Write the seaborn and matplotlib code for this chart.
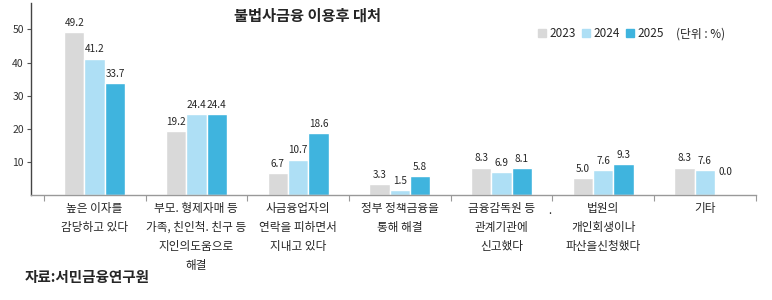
import matplotlib
matplotlib.use('Agg')
import matplotlib.pyplot as plt
import pandas as pd
import seaborn as sns

categories = ['높은 이자를\n감당하고 있다',
              '부모. 형제자매 등\n가족, 친인척. 친구 등\n지인의도움으로\n해결',
              '사금융업자의\n연락을 피하면서\n지내고 있다',
              '정부 정책금융을\n통해 해결',
              '금융감독원 등\n관계기관에\n신고했다',
              '법원의\n개인회생이나\n파산을신청했다',
              '기타']
years = ['2023', '2024', '2025']
v2023 = [49.2, 19.2, 6.7, 3.3, 8.3, 5.0, 8.3]
v2024 = [41.2, 24.4, 10.7, 1.5, 6.9, 7.6, 7.6]
v2025 = [33.7, 24.4, 18.6, 5.8, 8.1, 9.3, 0.0]
yticks = [10, 20, 30, 40, 50]

colors = ['#d9d9d9', '#aedff5', '#3fb4de']

sns.set_style('white')
plt.rcParams['font.family'] = ['Noto Sans CJK KR', 'DejaVu Sans']

df = pd.DataFrame({
    'cat': categories * 3,
    'year': [y for y in years for _ in categories],
    'val': v2023 + v2024 + v2025,
})

fig = plt.figure(figsize=(7.72, 3.0), dpi=100)
ax = fig.add_axes([0.040, 0.35, 0.939, 0.64])

sns.barplot(data=df, x='cat', y='val', hue='year', palette=colors,
            width=0.6, ax=ax, saturation=1, legend=False)

# value labels
for cont in ax.containers:
    for p in cont:
        h = p.get_height()
        off = 3 if h > 0 else 13
        ax.annotate(f'{h:.1f}', (p.get_x() + p.get_width() / 2, h),
                    xytext=(0, off), textcoords='offset points',
                    ha='center', va='bottom', fontsize=7.2)

ax.set_xlim(-0.627, 6.5)
ax.set_ylim(0, 58)
ax.set_yticks(yticks)
ax.set_yticklabels([str(t) for t in yticks], fontsize=7.5, color='#333333')
ax.tick_params(axis='y', length=3, width=0.8, color='#555555', left=True, pad=2)

ax.set_xticks(range(len(categories)))
ax.set_xticklabels(categories, fontsize=8.4, linespacing=1.6, va='top')
ax.tick_params(axis='x', length=0, pad=5)
ax.set_xticks([i - 0.5 for i in range(len(categories) + 1)], minor=True)
ax.tick_params(axis='x', which='minor', length=4, width=0.8, color='#999999', bottom=True)

ax.set_xlabel('')
ax.set_ylabel('')
sns.despine(ax=ax)
ax.spines['left'].set_color('#444444')
ax.spines['left'].set_linewidth(1.0)
ax.spines['bottom'].set_color('#999999')
ax.spines['bottom'].set_linewidth(1.0)

ax.text(0.382, 0.932, '불법사금융 이용후 대처', transform=ax.transAxes,
        ha='center', va='center', fontsize=11, fontweight='bold')

# legend
handles = [plt.Rectangle((0, 0), 1, 1, color=c) for c in colors]
leg = ax.legend(handles, years, ncol=3, frameon=False, fontsize=8.5,
                loc='center left', bbox_to_anchor=(0.699, 0.84),
                handlelength=0.7, handleheight=0.7, handletextpad=0.3,
                columnspacing=0.5, borderpad=0, borderaxespad=0)
fig.text(676 / 772, 1 - 34 / 300, '(단위 : %)', ha='left', va='center', fontsize=8.5)

fig.text(550 / 772, 1 - 211 / 300, '.', fontsize=8, ha='center', va='center')
fig.text(25 / 772, 1 - 277 / 300, '자료:서민금융연구원', fontsize=10.5,
         fontweight='bold', va='center', ha='left')

fig.savefig('out.png', dpi=100)
